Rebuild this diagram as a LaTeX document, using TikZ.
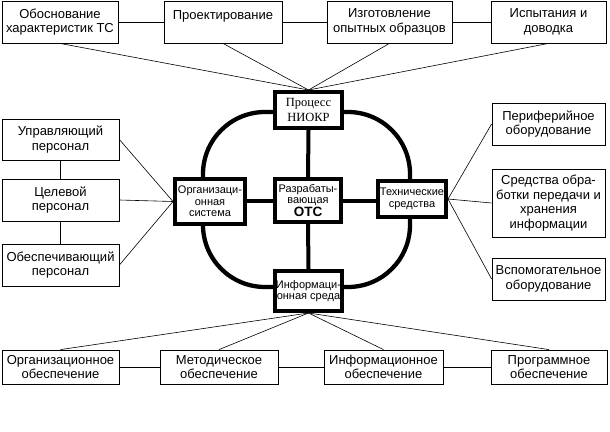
\documentclass[tikz,border=0pt]{standalone}
\usepackage{fontspec}
\setmainfont{Liberation Sans}
\newfontfamily\niokrfont{Liberation Serif}
\tikzset{>=latex}
\tikzset{
	outer/.style={draw, line width=0.8pt, fill=white, align=center, inner sep=0pt, font=\fontsize{13}{14.5}\selectfont},
	inner/.style={draw, line width=4pt, fill=white, align=center, inner sep=0pt, font=\fontsize{11}{11.5}\selectfont},
	link/.style={line width=0.6pt},
	spoke/.style={line width=4pt},
}

\begin{document}
\begin{tikzpicture}[x=1pt,y=-1pt]
	\useasboundingbox (0,0) rectangle (610,431);

	% kontur
	\draw[line width=4.3pt, rounded corners=62pt] (203,112) rectangle (410,287);

	% verkhnij ryad
	\node[outer, minimum width=116pt, minimum height=42pt] (obosn) at (60,22) {Обоснование\\характеристик ТС};
	\node[outer, minimum width=118pt, minimum height=42pt] (proekt) at (223,22) {Проектирование\\\mbox{}};
	\node[outer, minimum width=125pt, minimum height=42pt] (izgot) at (389.5,22) {Изготовление\\опытных образцов};
	\node[outer, minimum width=115pt, minimum height=42pt] (ispyt) at (548.5,22) {Испытания и\\доводка};

	% levyj ryad
	\node[outer, minimum width=117pt, minimum height=41pt] (upr) at (60.5,139.5) {Управляющий\\персонал};
	\node[outer, minimum width=117pt, minimum height=42pt] (celev) at (60.5,200) {Целевой\\персонал};
	\node[outer, minimum width=117pt, minimum height=42pt] (obesp) at (60.5,265) {Обеспечивающий\\персонал};

	% pravyj ryad
	\node[outer, minimum width=113pt, minimum height=42pt] (perif) at (548.5,124) {Периферийное\\оборудование};
	\node[outer, minimum width=113pt, minimum height=68pt] (sredstva) at (548.5,203) {Средства обра-\\ботки передачи и\\хранения\\информации};
	\node[outer, minimum width=113pt, minimum height=42pt] (vspom) at (548.5,279) {Вспомогательное\\оборудование};

	% nizhnij ryad
	\node[outer, minimum width=117pt, minimum height=34pt] (orgob) at (60.5,367) {Организационное\\обеспечение};
	\node[outer, minimum width=118pt, minimum height=34pt] (metod) at (219,367) {Методическое\\обеспечение};
	\node[outer, minimum width=119pt, minimum height=34pt] (inform) at (383.5,367) {Информационное\\обеспечение};
	\node[outer, minimum width=116pt, minimum height=34pt] (progr) at (549,367) {Программное\\обеспечение};

	% centr
	\node[inner, minimum width=67pt, minimum height=36pt, font=\niokrfont\fontsize{12.5}{15}\selectfont] (niokr) at (308.5,110) {Процесс\\НИОКР};
	\node[inner, minimum width=66pt, minimum height=43pt] (ots) at (308,200.5) {Разрабаты-\\вающая\\{\fontsize{13.5}{15}\selectfont\bfseries ОТС}};
	\node[inner, minimum width=70pt, minimum height=45pt] (org) at (210,201.5) {Организаци-\\онная\\система};
	\node[inner, minimum width=68pt, minimum height=36pt] (tech) at (412,199) {Технические\\средства};
	\node[inner, minimum width=67pt, minimum height=40pt] (info) at (308.5,291) {Информаци-\\онная среда};

	\draw[spoke] (niokr.south) -- (ots.north);
	\draw[spoke] (ots.west) -- (org.east |- ots.west);
	\draw[spoke] (ots.east) -- (tech.west |- ots.east);
	\draw[spoke] (ots.south) -- (info.north);

	% svyazi
	\foreach \n in {obosn,proekt,izgot,ispyt} {
		\draw[link] (\n.south) -- (niokr.north);
	}
	\draw[link] (obosn.east) -- (proekt.west);
	\draw[link] (proekt.east) -- (izgot.west);
	\draw[link] (izgot.east) -- (ispyt.west);

	\foreach \n in {upr,celev,obesp} {
		\draw[link] (\n.east) -- (org.west);
	}
	\draw[link] (upr.south) -- (celev.north);
	\draw[link] (celev.south) -- (obesp.north);

	\foreach \n in {perif,sredstva,vspom} {
		\draw[link] (tech.east) -- (\n.west);
	}

	\foreach \n in {orgob,metod,inform,progr} {
		\draw[link] (\n.north) -- (info.south);
	}
	\draw[link] (orgob.east) -- (metod.west);
	\draw[link] (metod.east) -- (inform.west);
	\draw[link] (inform.east) -- (progr.west);
\end{tikzpicture}
\end{document}
